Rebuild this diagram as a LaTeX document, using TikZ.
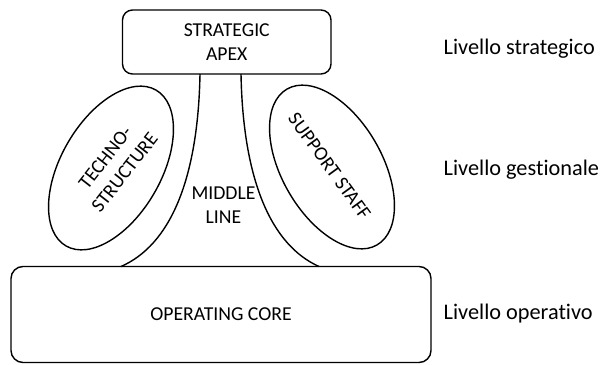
\documentclass[tikz,border=0pt]{standalone}
\usepackage{fontspec}
\setmainfont{Carlito}[Ligatures=NoCommon]

\begin{document}
\begin{tikzpicture}[x=1pt, y=-1pt, line width=1.4pt,
    every node/.style={align=center, font=\fontsize{19.7}{24.5}\selectfont},
    box/.style={draw, rounded corners=10pt},
    level/.style={anchor=base west, inner xsep=0pt, font=\fontsize{22.3}{26}\selectfont}]
  \useasboundingbox (0,0) rectangle (602,364);
  % the two boxes
  \node[box, minimum width=208.5pt, minimum height=64pt] (apex) at (226.75,42) {STRATEGIC\\APEX};
  \node[box, minimum width=420pt, minimum height=96pt, rounded corners=12pt] (core) at (221,314.5) {OPERATING CORE};
  % middle line
  \draw (200,74) .. controls (198,180) and (170,245) .. (121,266.5);
  \draw (241,74) .. controls (243,180) and (271,245) .. (319,266.5);
  \node (middle) at (223.5,205) {MIDDLE\\LINE};
  % staff ellipses
  \draw[rotate around={60:(111,168)}] (111,168) ellipse [x radius=90pt, y radius=50pt];
  \node[rotate=52] (techno) at (115,165) {TECHNO-\\STRUCTURE};
  \draw[rotate around={-60:(332,167)}] (332,167) ellipse [x radius=90pt, y radius=50pt];
  \node[rotate=-54] (support) at (329.5,166) {SUPPORT STAFF};
  % levels on the right
  \node[level] (lv1) at (443,54) {Livello strategico};
  \node[level] (lv2) at (443,175) {Livello gestionale};
  \node[level] (lv3) at (443,319) {Livello operativo};
\end{tikzpicture}
\end{document}
